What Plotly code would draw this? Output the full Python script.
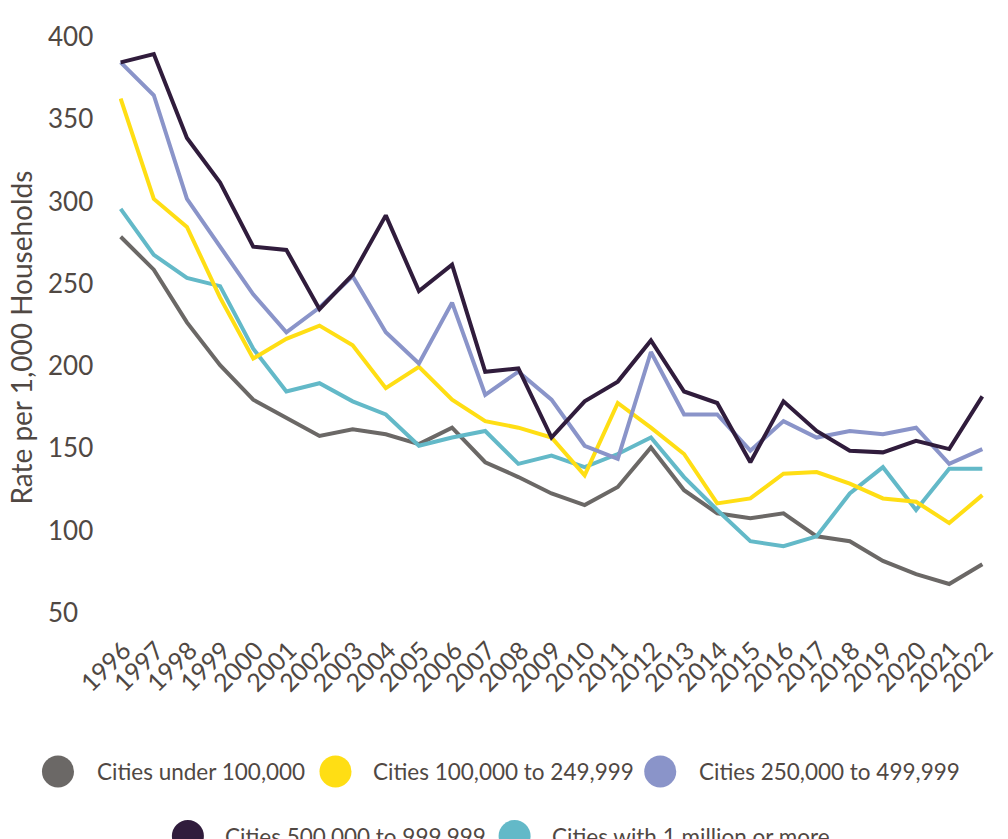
import plotly.graph_objects as go

years = list(range(1996, 2023))

under_100k = [278, 258, 226, 200, 179, 168, 157, 161, 158, 152, 162, 141, 132, 122, 115, 126, 150, 124, 110, 107, 110, 96, 93, 81, 73, 67, 79]
k100_249 = [362, 301, 284, 241, 204, 216, 224, 212, 186, 199, 179, 166, 162, 156, 133, 177, 162, 146, 116, 119, 134, 135, 128, 119, 117, 104, 121]
k250_499 = [384, 364, 301, 272, 243, 220, 235, 254, 220, 201, 238, 182, 196, 179, 151, 143, 208, 170, 170, 148, 166, 156, 160, 158, 162, 140, 149]
k500_999 = [384, 389, 338, 311, 272, 270, 234, 255, 291, 245, 261, 196, 198, 156, 178, 190, 215, 184, 177, 141, 178, 160, 148, 147, 154, 149, 181]
m1_plus = [295, 267, 253, 248, 210, 184, 189, 178, 170, 151, 156, 160, 140, 145, 138, 146, 156, 132, 112, 93, 90, 96, 122, 138, 112, 137, 137]

series_names = ["Cities under 100,000", "Cities 100,000 to 249,999", "Cities 250,000 to 499,999",
                "Cities 500,000 to 999,999", "Cities with 1 million or more"]
series_values = [under_100k, k100_249, k250_499, k500_999, m1_plus]
colors = ["#6b6866", "#ffde14", "#8a94c9", "#301c3c", "#63b9c8"]

y_ticks = [50, 100, 150, 200, 250, 300, 350, 400]
y_title = "Rate per 1,000 Households"

TEXT = "#504843"
FONT = "Lato"

W, H = 1008, 839
L, R, T, B = 119, 10, 36, 227
pw = W - L - R
ph = H - T - B

def px2paper_x(px):
    return (px - L) / pw

def px2paper_y(py):
    return (H - B - py) / ph

fig = go.Figure()
order = [0, 4, 1, 2, 3]
for i in order:
    fig.add_trace(go.Scatter(x=years, y=series_values[i], mode="lines", name=series_names[i],
                             line=dict(color=colors[i], width=4), showlegend=False,
                             hoverinfo="x+y+name"))

annotations = []
for v in y_ticks:
    annotations.append(dict(x=px2paper_x(45), xref="paper", y=v, yref="y", text=str(v),
                            showarrow=False, xanchor="left", yanchor="middle",
                            font=dict(family=FONT, size=26, color=TEXT)))

annotations.append(dict(x=px2paper_x(19), xref="paper", y=px2paper_y(338), yref="paper",
                        text=y_title, textangle=-90, showarrow=False,
                        xanchor="center", yanchor="middle",
                        font=dict(family=FONT, size=28, color=TEXT)))

legend_pos = [(57, 95, 771.5), (339, 375, 771.5), (669, 706, 771.5),
              (189, 225, 836), (521, 557, 836)]
shapes = []
for i, (cx, tx, cy) in enumerate(legend_pos):
    shapes.append(dict(type="circle", xref="paper", yref="paper",
                       xsizemode="pixel", ysizemode="pixel",
                       xanchor=px2paper_x(cx), yanchor=px2paper_y(cy),
                       x0=-16, x1=16, y0=-16, y1=16,
                       fillcolor=colors[i], line=dict(width=0)))
    annotations.append(dict(x=px2paper_x(tx), xref="paper", y=px2paper_y(cy), yref="paper",
                            text=series_names[i], showarrow=False,
                            xanchor="left", yanchor="middle",
                            font=dict(family=FONT, size=22.5, color=TEXT)))

fig.update_layout(
    width=W, height=H,
    margin=dict(l=L, r=R, t=T, b=B, pad=0),
    paper_bgcolor="white", plot_bgcolor="white",
    font=dict(family=FONT, color=TEXT),
    showlegend=False,
    xaxis=dict(range=[1995.95, 2022.05], tickmode="array", tickvals=years,
               ticktext=[str(y) for y in years], tickangle=-45,
               tickfont=dict(family=FONT, size=25, color=TEXT),
               ticklabeloverflow="allow", ticklabelstandoff=18, ticklabelshift=3,
               showgrid=False, zeroline=False, showline=False, ticks=""),
    yaxis=dict(range=[50, 400], showticklabels=False, showgrid=False,
               zeroline=False, showline=False, ticks=""),
    shapes=shapes,
    annotations=annotations,
)

fig.write_html("out.html")
